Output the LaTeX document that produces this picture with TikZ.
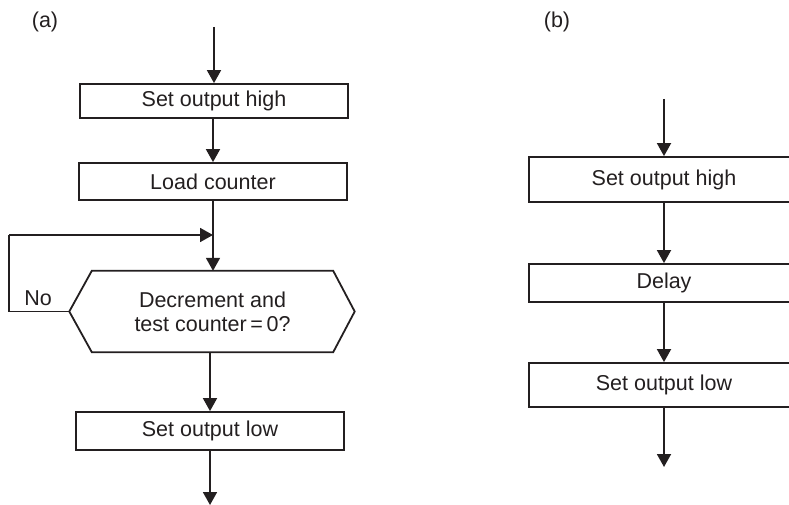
\documentclass[tikz,border=0pt]{standalone}
\usepackage{fontspec}
\setmainfont{Liberation Sans}
\usetikzlibrary{arrows.meta,calc}
\definecolor{ink}{HTML}{231F20}
\begin{document}
\begin{tikzpicture}[x=1pt,y=-1pt,
  every node/.style={font=\fontsize{21.5}{24}\selectfont, text=ink},
  box/.style={draw=ink, line width=1.8pt, inner sep=0pt, minimum width=268pt},
  flow/.style={draw=ink, line width=1.8pt, -{Triangle[length=13pt,width=14pt]}},
  plain/.style={draw=ink, line width=1.8pt}]
\clip (0,0) rectangle (789,505);
% labels
\node (la) at (45,22) {(a)};
\node (lb) at (557,22) {(b)};
% (a)
\node[box, minimum height=34pt] (a1) at (214,101) {Set output high};
\node[box, minimum height=37pt] (a2) at (213,181.5) {Load counter};
\node[inner sep=0pt, minimum width=241pt, minimum height=81pt, align=center] (hex) at (212.5,311.5) {Decrement and\\test counter\,=\,0?};
\draw[plain, line join=miter] (hex.north west) -- (hex.north east) -- ($(hex.east)+(21.5,0)$) -- (hex.south east) -- (hex.south west) -- ($(hex.west)+(-22.5,0)$) coordinate (hw) -- cycle;
\node[box, minimum height=38pt] (a3) at (210,431) {Set output low};
\node (no) at (38,298) {No};
\coordinate (ta) at (214,27);
\coordinate (lj) at (213,235);
\coordinate (lc) at (9,235);
\coordinate (ld) at (9,311.5);
\coordinate (ea) at (210,505);
\draw[flow] (ta) -- (a1);
\draw[flow] (a1.south -| a2.north) -- (a2.north);
\draw[flow] (a2.south) -- (a2.south |- hex.north);
\draw[plain] (hw) -- (ld) -- (lc);
\draw[flow] (lc) -- (lj);
\draw[flow] (hex.south -| a3.north) -- (a3.north);
\draw[flow] (a3) -- (ea);
% (b)
\node[box, minimum width=270pt, minimum height=45pt] (b1) at (664,179.5) {Set output high};
\node[box, minimum width=270pt, minimum height=38pt] (b2) at (664,283) {Delay};
\node[box, minimum width=270pt, minimum height=44pt] (b3) at (664,385) {Set output low};
\coordinate (tb) at (664,99);
\coordinate (eb) at (664,467);
\draw[flow] (tb) -- (b1);
\draw[flow] (b1) -- (b2);
\draw[flow] (b2) -- (b3);
\draw[flow] (b3) -- (eb);
\end{tikzpicture}
\end{document}
